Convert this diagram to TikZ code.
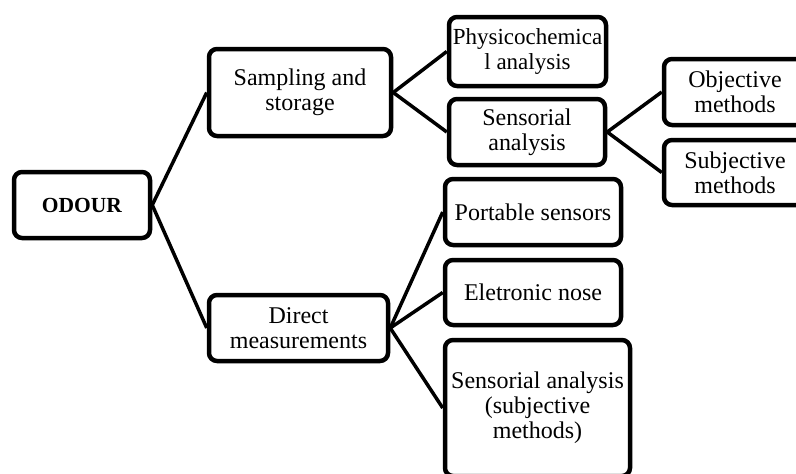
\documentclass[tikz,border=0pt]{standalone}
\usepackage{fontspec}
\setmainfont{Liberation Serif}
\begin{document}
\begin{tikzpicture}[x=1pt,y=-1pt,
  box/.style={draw, line width=4.5pt, rounded corners=8pt, align=center,
    inner sep=0pt, font=\fontsize{24}{25}\selectfont},
  link/.style={line width=3.5pt}]
\path[use as bounding box] (0,0) rectangle (796,474);
\clip (0,0) rectangle (796,474);

% root
\node[box, minimum width=136, minimum height=66, font=\fontsize{21.5}{24}\selectfont\bfseries] (odour) at (82,205) {ODOUR};

% first level
\node[box, minimum width=182, minimum height=87] (samp) at (300,92.5) {Sampling and\\storage};
\node[box, minimum width=179, minimum height=66] (direct) at (298.5,328) {Direct\\measurements};

% sampling branch
\node[box, minimum width=157, minimum height=69, font=\fontsize{23}{25}\selectfont] (phys) at (527.5,51.5) {Physicochemica\\l analysis};
\node[box, minimum width=156, minimum height=66] (sens) at (527,132) {Sensorial\\analysis};
\node[box, minimum width=142, minimum height=66] (obj) at (735,92) {Objective\\methods};
\node[box, minimum width=142, minimum height=65] (subj) at (735,172.5) {Subjective\\methods};

% direct branch
\node[box, minimum width=176, minimum height=66] (port) at (533,212) {Portable sensors};
\node[box, minimum width=176, minimum height=65] (enose) at (533,292.5) {Eletronic nose};
\node[box, minimum width=185, minimum height=136] (sensub) at (537.5,408) {Sensorial analysis\\(subjective\\methods)};

% connectors
\draw[link] (odour.east) -- (samp.west);
\draw[link] (odour.east) -- (direct.west);
\draw[link] (samp.east) -- (phys.west);
\draw[link] (samp.east) -- (sens.west);
\draw[link] (sens.east) -- (obj.west);
\draw[link] (sens.east) -- (subj.west);
\draw[link] (direct.east) -- (port.west);
\draw[link] (direct.east) -- (enose.west);
\draw[link] (direct.east) -- (sensub.west);
\end{tikzpicture}
\end{document}
